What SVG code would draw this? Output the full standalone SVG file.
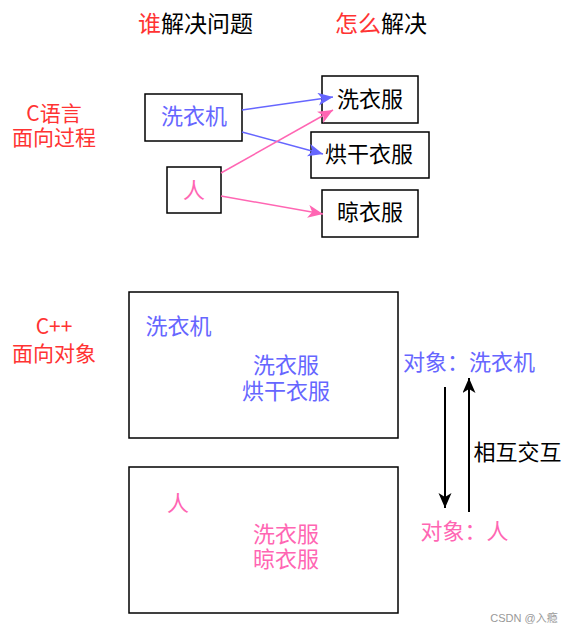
<svg xmlns="http://www.w3.org/2000/svg" width="573" height="631" viewBox="0 0 573 631">
<style>
text{font-family:"Noto Sans CJK SC","Liberation Sans",sans-serif;font-size:22px;text-anchor:middle}
.red{fill:#FF3333}.blue{fill:#6666FF}.pink{fill:#FF66B3}.blk{fill:#000}
.box{fill:#fff;stroke:#000;stroke-width:1.5}
.side{font-size:21px}
</style>
<defs>
<marker id="ab" markerUnits="userSpaceOnUse" markerWidth="16" markerHeight="14" refX="15" refY="6.5" orient="auto"><path d="M0,0 L15,6.5 L0,13 L4,6.5 Z" fill="#6666FF"/></marker>
<marker id="ap" markerUnits="userSpaceOnUse" markerWidth="16" markerHeight="14" refX="15" refY="6.5" orient="auto"><path d="M0,0 L15,6.5 L0,13 L4,6.5 Z" fill="#FF66B3"/></marker>
<marker id="ak" markerUnits="userSpaceOnUse" markerWidth="16" markerHeight="14" refX="15" refY="6.5" orient="auto"><path d="M0,0 L15,6.5 L0,13 L4,6.5 Z" fill="#000"/></marker>
</defs>
<g id="headers">
<text x="195.5" y="32" style="font-size:23px"><tspan class="red">谁</tspan><tspan class="blk">解决问题</tspan></text>
<text x="381" y="32" style="font-size:23px"><tspan class="red">怎么</tspan><tspan class="blk">解决</tspan></text>
</g>
<g id="label-c">
<text x="54" y="121" class="red side">C语言</text>
<text x="54" y="145" class="red side">面向过程</text>
</g>
<g id="label-cpp">
<text x="54" y="334" class="red side">C++</text>
<text x="54" y="361" class="red side">面向对象</text>
</g>
<g id="node-washer"><rect class="box" x="145" y="94" width="97" height="47"/><text x="194" y="124" class="blue">洗衣机</text></g>
<g id="node-person"><rect class="box" x="167" y="167" width="54" height="46"/><text x="194" y="198" class="pink">人</text></g>
<g id="node-wash"><rect class="box" x="322" y="76" width="96" height="47"/><text x="370" y="107" class="blk">洗衣服</text></g>
<g id="node-dry"><rect class="box" x="311" y="132" width="118" height="46"/><text x="369" y="162" class="blk">烘干衣服</text></g>
<g id="node-hang"><rect class="box" x="322" y="190" width="96" height="47"/><text x="370" y="220" class="blk">晾衣服</text></g>
<g id="connectors" fill="none" stroke-width="1.5">
<line x1="242" y1="110" x2="333" y2="97" stroke="#6666FF" marker-end="url(#ab)"/>
<line x1="242" y1="132" x2="323" y2="154" stroke="#6666FF" marker-end="url(#ab)"/>
<line x1="221" y1="173" x2="333" y2="110" stroke="#FF66B3" marker-end="url(#ap)"/>
<line x1="221" y1="196" x2="323" y2="214" stroke="#FF66B3" marker-end="url(#ap)"/>
<line x1="445" y1="387" x2="445" y2="508" stroke="#000" stroke-width="2" marker-end="url(#ak)"/>
<line x1="469" y1="512" x2="469" y2="378" stroke="#000" stroke-width="2" marker-end="url(#ak)"/>
</g>
<g id="obj-washer">
<rect class="box" x="129" y="292" width="269" height="146"/>
<text x="178.5" y="334" class="blue">洗衣机</text>
<text x="286" y="373" class="blue">洗衣服</text>
<text x="286" y="399" class="blue">烘干衣服</text>
</g>
<g id="obj-person">
<rect class="box" x="129" y="467" width="269" height="146"/>
<text x="178" y="511" class="pink">人</text>
<text x="286" y="542" class="pink">洗衣服</text>
<text x="286" y="567" class="pink">晾衣服</text>
</g>
<g id="labels-right">
<text x="469" y="370" class="blue">对象：洗衣机</text>
<text x="464.5" y="539" class="pink">对象：人</text>
<text x="517.5" y="460" class="blk">相互交互</text>
</g>
<text x="524" y="622" style="font-size:11px;fill:#999;font-family:'Liberation Sans','Noto Sans CJK SC',sans-serif">CSDN @入瘾</text>
</svg>
